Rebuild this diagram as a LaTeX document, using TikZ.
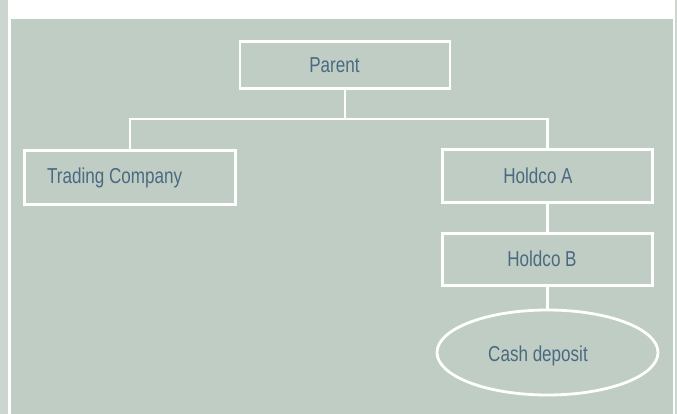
\documentclass[tikz,border=0pt]{standalone}
\usepackage{fontspec}
\setmainfont{Liberation Sans}[FakeStretch=0.79]
\usetikzlibrary{shapes.geometric}
\definecolor{panel}{HTML}{BFCDC4}
\definecolor{edge}{HTML}{CDD5D0}
\definecolor{ink}{HTML}{4B6A80}
\begin{document}
\begin{tikzpicture}[x=1pt,y=-1pt,
  entity/.style={draw=white,line width=2.8pt,minimum width=#1,inner sep=0pt},
  entity/.default=210pt,
  lbl/.style={text=ink,font=\fontsize{21.6}{24}\selectfont,inner sep=0pt,anchor=base},
  link/.style={draw=white,line width=2.8pt}]
  % page frame: outer strip, white sheet, green panel
  \useasboundingbox (0,0) rectangle (677,414);
  \fill[edge] (0,0) rectangle (677,414);
  \fill[white] (8,0) rectangle (675,414);
  \fill[panel] (11,19) rectangle (673,414);

  % boxes
  \node[entity, minimum height=47pt] (parent) at (345,65) {};
  \node[entity=211pt, minimum height=54pt] (trading) at (130,177.5) {};
  \node[entity=210pt, minimum height=53pt] (holdA) at (547.5,176) {};
  \node[entity=210pt, minimum height=52pt] (holdB) at (547.5,259.5) {};
  \node[entity=0pt, ellipse, minimum width=221pt, minimum height=85pt] (cash) at (547.5,352.5) {};

  % labels, placed on their baselines
  \node[lbl] (tParent) at (334.5,73) {Parent};
  \node[lbl, anchor=base west] (tTrading) at (47,184) {Trading Company};
  \node[lbl] (tHoldA) at (538,183.5) {Holdco A};
  \node[lbl] (tHoldB) at (542,266.5) {Holdco B};
  \node[lbl] (tCash) at (538,361) {Cash deposit};

  % connectors
  \coordinate (bus) at (345,119);
  \draw[link] (parent.south) -- (bus);
  \draw[link] (trading.north) |- (bus) -| (holdA.north);
  \draw[link] (holdA.south) -- (holdB.north);
  \draw[link] (holdB.south) -- (cash.north);
\end{tikzpicture}
\end{document}
